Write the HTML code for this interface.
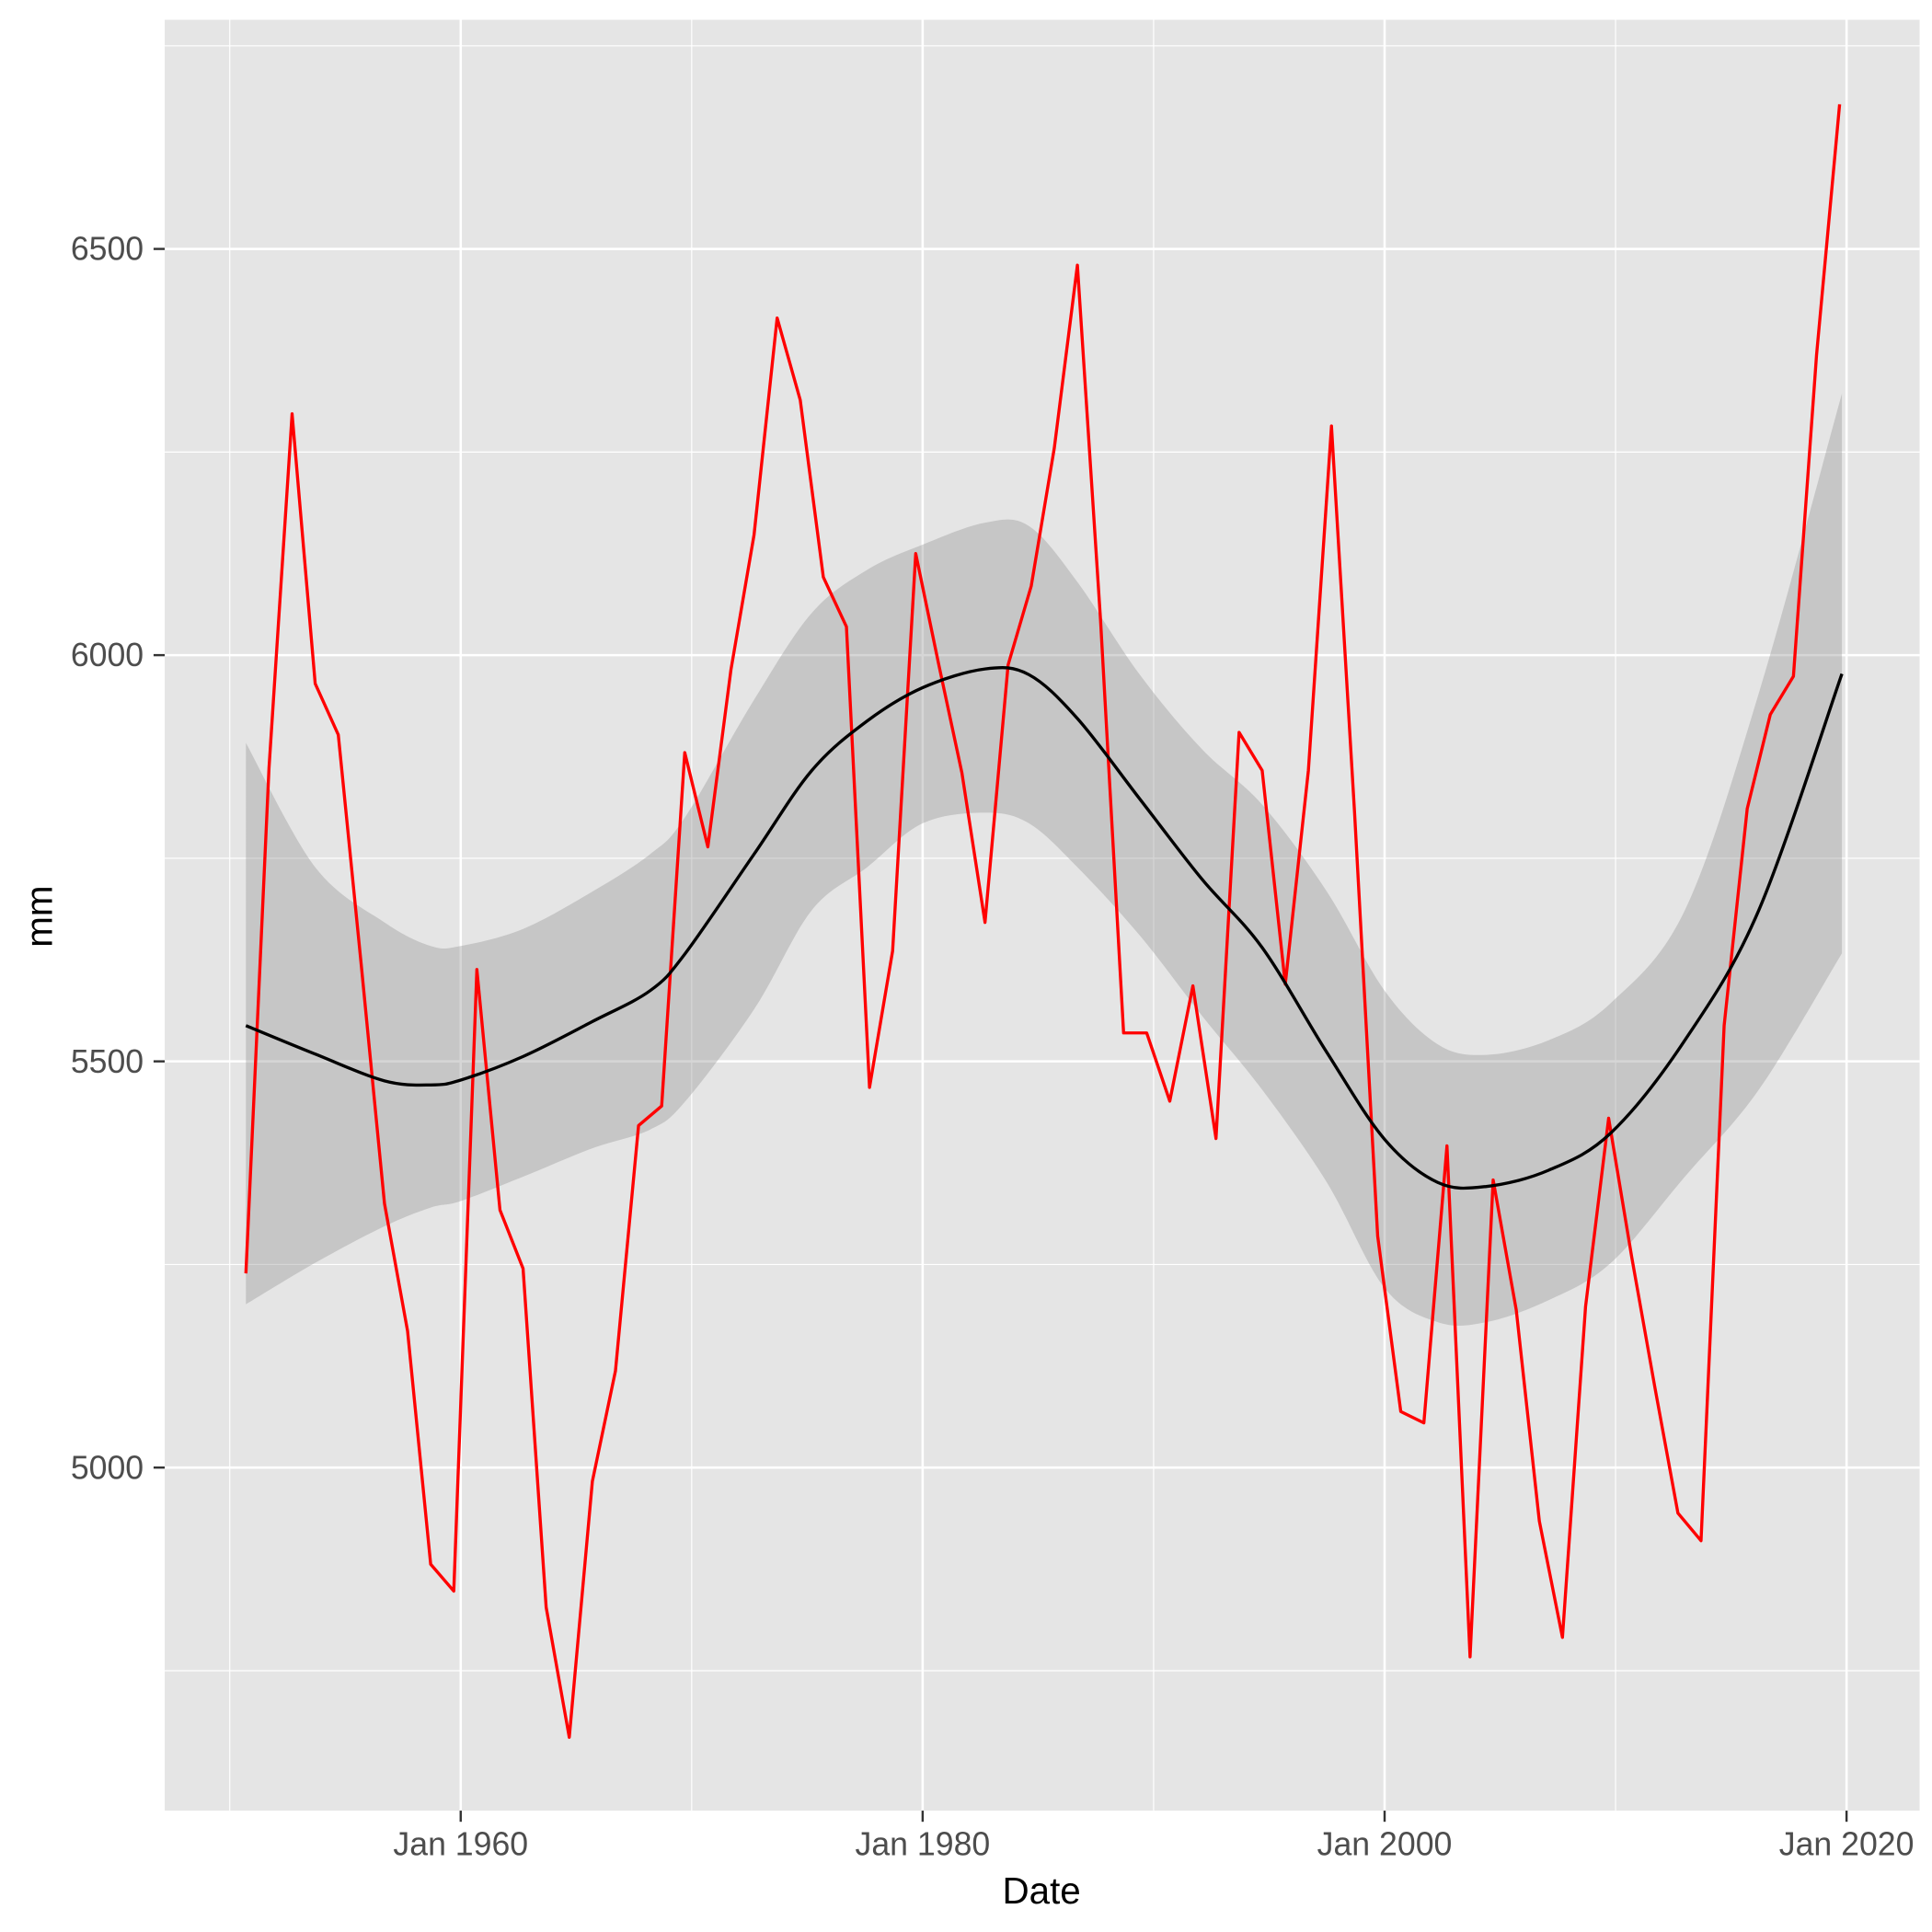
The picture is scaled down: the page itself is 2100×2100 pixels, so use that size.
<!DOCTYPE html>
<html><head><meta charset="utf-8"><style>
html,body{margin:0;padding:0;background:#fff;}
svg{display:block;font-family:"Liberation Sans",Arial,sans-serif;}
</style></head><body>
<svg id="chart" width="2100" height="2100" viewBox="0 0 1560 1560" xmlns="http://www.w3.org/2000/svg">
<rect x="133" y="16" width="1417" height="1446" fill="#e5e5e5"/>
<g id="grid"></g>
<g id="band"></g>
<g id="series"></g>
<g id="axes"></g>
<text x="841" y="1537" font-size="30" text-anchor="middle" fill="#000">Date</text>
<text x="0" y="0" transform="translate(42,740) rotate(-90)" font-size="30" text-anchor="middle" fill="#000">mm</text>
</svg>
<script>
const years = [1950,1951,1952,1953,1954,1955,1956,1957,1958,1959,1960,1961,1962,1963,1964,1965,1966,1967,1968,1969,1970,1971,1972,1973,1974,1975,1976,1977,1978,1979,1980,1981,1982,1983,1984,1985,1986,1987,1988,1989,1990,1991,1992,1993,1994,1995,1996,1997,1998,1999,2000,2001,2002,2003,2004,2005,2006,2007,2008,2009,2010,2011,2012,2013,2014,2015,2016,2017,2018,2019];
const rainfall = [5239,5861,6297,5965,5902,5617,5325,5168,4881,4848,5613,5317,5245,4828,4668,4983,5119,5421,5445,5880,5764,5982,6148,6415,6314,6096,6035,5468,5636,6125,5988,5855,5671,5988,6085,6255,6480,6044,5535,5535,5451,5593,5405,5905,5858,5595,5858,6282,5806,5285,5069,5055,5396,4767,5354,5194,4934,4791,5198,5430,5259,5099,4944,4910,5544,5811,5927,5974,6369,6678];
const fitYears = [1950.7,1953.7,1956.7,1958.7,1960,1962.7,1965.7,1968.2,1969.7,1972.7,1975.2,1977.6,1980,1982.7,1984.6,1986.7,1989.4,1992.1,1994.7,1997.5,2000,2002.3,2004.4,2007.1,2009.8,2013,2016.2,2019.8];
const fitValues = [5544,5509,5476,5471,5477,5506,5549,5587,5632,5755,5858,5919,5960,5983,5976,5922,5823,5724,5640,5511,5404,5351,5346,5366,5412,5526,5686,5977];
const fitUpper = [5892,5739,5671,5642,5642,5663,5709,5755,5800,5945,6052,6105,6136,6163,6159,6090,5976,5884,5816,5709,5587,5521,5508,5526,5572,5686,5953,6322];
const fitLower = [5201,5252,5297,5320,5328,5358,5393,5416,5450,5564,5686,5739,5793,5806,5793,5739,5655,5556,5465,5351,5221,5179,5179,5206,5252,5358,5465,5633];
const yTicks = [5000,5500,6000,6500];
const yMinor = [4750,5250,5750,6250,6750];
const xTicks = [1960,1980,2000,2020];
const xTickLabels = ["Jan 1960","Jan 1980","Jan 2000","Jan 2020"];
const xMinor = [1950,1970,1990,2010];

const NS="http://www.w3.org/2000/svg";
const X = yr => 372 + (yr-1960)*18.65;
const Y = v => 529 - (v-6000)*0.656;
function mk(tag, attrs, parent){const e=document.createElementNS(NS,tag);for(const k in attrs)e.setAttribute(k,attrs[k]);parent.appendChild(e);return e;}
function smooth(pts){let d='M'+pts[0][0]+','+pts[0][1];for(let i=0;i<pts.length-1;i++){const p0=pts[i-1]||pts[i],p1=pts[i],p2=pts[i+1],p3=pts[i+2]||p2;
d+=' C'+(p1[0]+(p2[0]-p0[0])/6)+','+(p1[1]+(p2[1]-p0[1])/6)+' '+(p2[0]-(p3[0]-p1[0])/6)+','+(p2[1]-(p3[1]-p1[1])/6)+' '+p2[0]+','+p2[1];}return d;}
const grid=document.getElementById('grid'), axes=document.getElementById('axes');
yMinor.forEach(v=>{const l=mk('line',{x1:133,x2:1550,y1:Y(v),y2:Y(v),stroke:'#fff','stroke-width':0.9},grid);

});
xMinor.forEach(v=>{const l=mk('line',{x1:X(v),x2:X(v),y1:16,y2:1462,stroke:'#fff','stroke-width':0.9},grid);

});
yTicks.forEach(v=>{const l=mk('line',{x1:133,x2:1550,y1:Y(v),y2:Y(v),stroke:'#fff','stroke-width':1.9},grid);


const t=mk('line',{x1:124,x2:133,y1:Y(v),y2:Y(v),stroke:'#333','stroke-width':1.8},axes);


const tx=mk('text',{x:116,y:Y(v)+9,'font-size':26.5,'text-anchor':'end',fill:'#4d4d4d'},axes);tx.textContent=v;

});
xTicks.forEach((v,i)=>{const l=mk('line',{x1:X(v),x2:X(v),y1:16,y2:1462,stroke:'#fff','stroke-width':1.9},grid);


const t=mk('line',{x1:X(v),x2:X(v),y1:1462,y2:1471,stroke:'#333','stroke-width':1.8},axes);


const tx=mk('text',{x:X(v),y:1498,'font-size':26.5,'text-anchor':'middle',fill:'#4d4d4d'},axes);tx.textContent=xTickLabels[i];

});
const up=fitYears.map((y,i)=>[X(y),Y(fitUpper[i])]);
const lo=fitYears.map((y,i)=>[X(y),Y(fitLower[i])]).reverse();
const d=smooth(up)+' L'+smooth(lo).slice(1)+'Z';
const band=mk('path',{d:d,fill:'#999','fill-opacity':0.4},document.getElementById('band'));


const series=document.getElementById('series');
const red=mk('polyline',{points:years.map((y,i)=>X(y+0.7)+','+Y(rainfall[i])).join(' '),fill:'none',stroke:'#ff0000','stroke-width':2.5,'stroke-linejoin':'round'},series);


const fit=mk('path',{d:smooth(fitYears.map((y,i)=>[X(y),Y(fitValues[i])])),fill:'none',stroke:'#000','stroke-width':2.5},series);


</script>
</body></html>
